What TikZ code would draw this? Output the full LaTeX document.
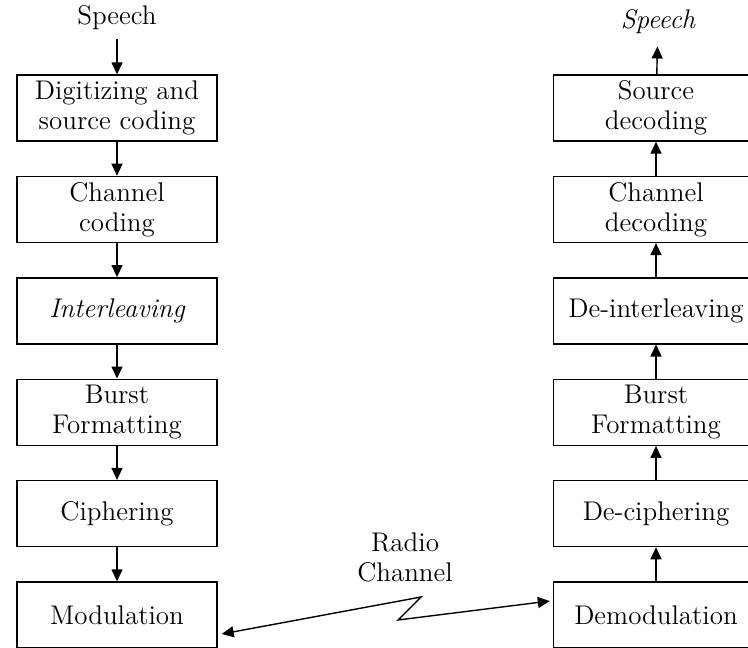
\documentclass[tikz,border=0pt]{standalone}
\usetikzlibrary{positioning, arrows.meta}

\begin{document}
\begin{tikzpicture}[x=0.5pt, y=-0.5pt,
      blk/.style={draw, line width=0.7pt, align=center, minimum width=100pt, minimum height=33pt,
                  inner sep=2pt, font=\fontsize{13.5}{15}\selectfont},
      rblk/.style={blk, minimum width=102.5pt},
      lbl/.style={align=center, inner sep=2pt, font=\fontsize{13.5}{15}\selectfont},
      arr/.style={-{Triangle[length=6pt, width=5.5pt]}, line width=0.7pt}]
    \useasboundingbox (0,0) rectangle (748,647);
    % transmitter chain
    \node[lbl] (spin) at (117,18) {Speech};
    \node[blk] (dig) at (117,108) {Digitizing and\\ source coding};
    \node[blk, below=17pt of dig] (chc) {Channel\\ coding};
    \node[blk, below=17pt of chc] (intl) {\itshape Interleaving};
    \node[blk, below=17pt of intl] (bfl) {Burst\\ Formatting};
    \node[blk, below=17pt of bfl] (ciph) {Ciphering};
    \node[blk, below=17pt of ciph] (mod) {Modulation};
    % receiver chain
    \node[lbl] (spout) at (658,22) {\itshape Speech};
    \node[rblk] (srcd) at (656,108) {Source\\ decoding};
    \node[rblk, below=17pt of srcd] (chd) {Channel\\ decoding};
    \node[rblk, below=17pt of chd] (dintl) {De-interleaving};
    \node[rblk, below=17pt of dintl] (bfr) {Burst\\ Formatting};
    \node[rblk, below=17pt of bfr] (dciph) {De-ciphering};
    \node[rblk, below=17pt of dciph] (demod) {Demodulation};
    % radio link
    \node[lbl] (radio) at (405,557) {Radio\\ Channel};
    \coordinate (zhi) at (421,597);
    \coordinate (zlo) at (398,620);

    \draw[arr, shorten <=2pt] (spin) -- (dig);
    \draw[arr] (dig) -- (chc);
    \draw[arr] (chc) -- (intl);
    \draw[arr] (intl) -- (bfl);
    \draw[arr] (bfl) -- (ciph);
    \draw[arr] (ciph) -- (mod);

    \draw[arr] (demod) -- (dciph);
    \draw[arr] (dciph) -- (bfr);
    \draw[arr] (bfr) -- (dintl);
    \draw[arr] (dintl) -- (chd);
    \draw[arr] (chd) -- (srcd);
    \draw[arr, shorten >=4pt] (srcd) -- (spout);

    \draw[arr, {Triangle[length=6pt, width=5.5pt]}-{Triangle[length=6pt, width=5.5pt]}]
      ([shift={(4,19)}]mod.east) -- (zhi) -- (zlo) -- ([shift={(-3,-14)}]demod.west);
\end{tikzpicture}
\end{document}
